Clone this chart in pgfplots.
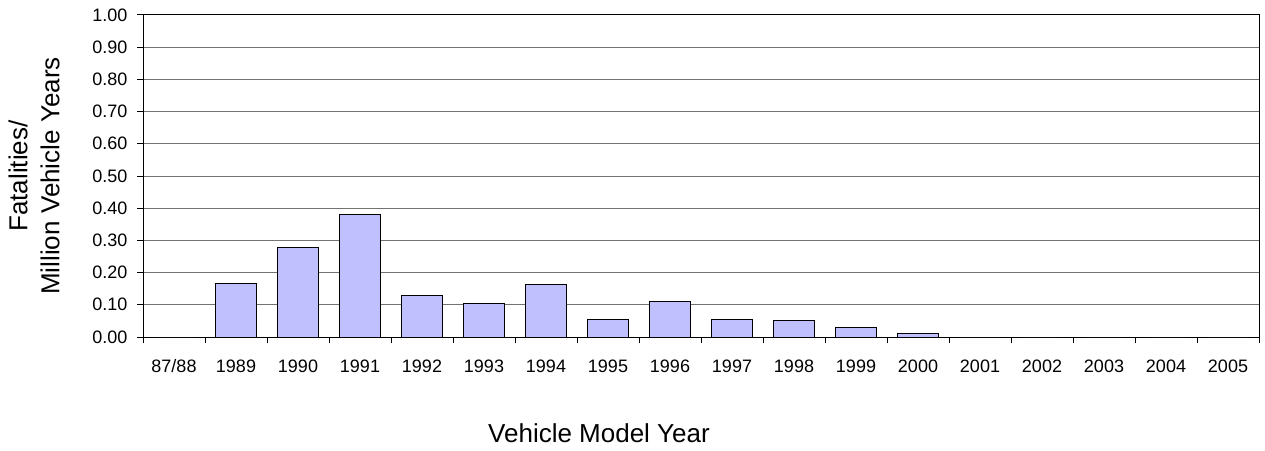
\documentclass[border=0pt]{standalone}
\usepackage{fontspec}
\setmainfont{Liberation Sans}
\usepackage{pgfplots}
\pgfplotsset{compat=1.18}
\definecolor{barfill}{RGB}{192,192,255}
\begin{document}
\begin{tikzpicture}
\useasboundingbox (0,0) rectangle (1265pt,450pt);
\begin{axis}[
  at={(143pt,113pt)}, anchor=south west,
  scale only axis, width=1116pt, height=322pt,
  xmin=-0.5, xmax=17.5, ymin=0, ymax=1,
  ybar, bar width=41.7pt,
  ytick={0,0.1,0.2,0.3,0.4,0.5,0.6,0.7,0.8,0.9,1.0},
  xtick={-0.5,0.5,1.5,2.5,3.5,4.5,5.5,6.5,7.5,8.5,9.5,10.5,11.5,12.5,13.5,14.5,15.5,16.5,17.5},
  x tick label as interval,
  xticklabels={87/88,1989,1990,1991,1992,1993,1994,1995,1996,1997,1998,1999,2000,2001,2002,2003,2004,2005},
  /pgf/number format/assume math mode=true,
  yticklabel style={/pgf/number format/fixed,/pgf/number format/fixed zerofill,/pgf/number format/precision=2, xshift=-6pt},
  xticklabel style={yshift=-13pt},
  tick label style={font=\fontsize{18pt}{21pt}\selectfont},
  major tick length=6pt, tick align=outside, tick pos=left,
  every tick/.style={black, line width=1pt},
  ymajorgrids, grid style={black!55, line width=1pt},
  axis line style={line width=1pt},
  xlabel={Vehicle Model Year},
  xlabel style={font=\fontsize{26pt}{31pt}\selectfont, at={(axis description cs:0.4086,-0.298)}, anchor=center},
  ylabel={Fatalities/\\Million Vehicle Years},
  ylabel style={align=center, font=\fontsize{26pt}{32pt}\selectfont, at={(axis description cs:-0.0977,0.5)}, anchor=center},
]
\addplot[fill=barfill, draw=black, line width=1pt] coordinates {
  (0,0) (1,0.166) (2,0.278) (3,0.381) (4,0.129) (5,0.103) (6,0.163)
  (7,0.053) (8,0.109) (9,0.055) (10,0.052) (11,0.031) (12,0.012)
  (13,0) (14,0) (15,0) (16,0) (17,0)
};
\end{axis}
\end{tikzpicture}
\end{document}
